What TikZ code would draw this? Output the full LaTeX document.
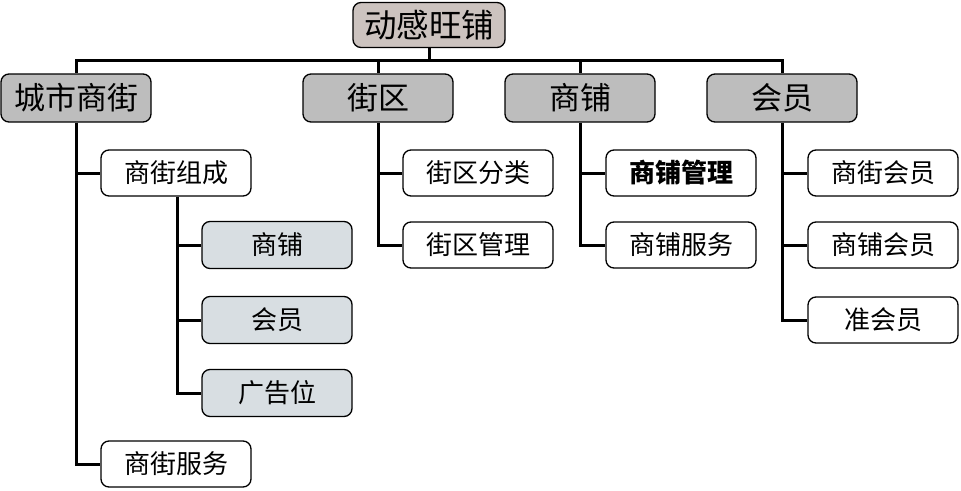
\documentclass[tikz,border=0pt]{standalone}
\usepackage{fontspec}
\setmainfont{Noto Sans CJK SC}
\begin{document}
\begin{tikzpicture}[x=1pt,y=-1pt,
  box/.style={draw=black,line width=1.3pt,rounded corners=8pt,minimum width=150pt,minimum height=46pt,inner sep=0pt},
  topbox/.style={box,fill=topc,minimum width=152pt,minimum height=45pt,font=\fontsize{32.5}{34}\selectfont},
  lone/.style={box,fill=grayc,minimum height=48pt,font=\fontsize{31}{33}\selectfont},
  ltwo/.style={box,fill=white,font=\fontsize{26}{28}\selectfont},
  lthree/.style={box,fill=bluec,minimum height=47pt,font=\fontsize{26}{28}\selectfont},
  link/.style={line width=3pt}]
\definecolor{topc}{HTML}{CCC3BF}
\definecolor{grayc}{HTML}{BDBDBD}
\definecolor{bluec}{HTML}{D8DEE2}
\useasboundingbox (0,0) rectangle (961,490);
\coordinate (bus) at (0,60);
\node[topbox] (root) at (429,25) {动感旺铺};
\node[lone] (c) at (76,98) {城市商街};
\node[lone] (j) at (378,98) {街区};
\node[lone] (s) at (580,98) {商铺};
\node[lone] (h) at (782,98) {会员};
\node[ltwo] (c1) at (176,173) {商街组成};
\node[ltwo] (c2) at (176,464) {商街服务};
\node[lthree] (c11) at (277,245) {商铺};
\node[lthree] (c12) at (277,320) {会员};
\node[lthree] (c13) at (277,393) {广告位};
\node[ltwo] (j1) at (478,173) {街区分类};
\node[ltwo] (j2) at (478,245) {街区管理};
\node[ltwo,font=\fontsize{26}{28}\selectfont\bfseries] (s1) at (681,173) {商铺管理};
\node[ltwo] (s2) at (681,245) {商铺服务};
\node[ltwo] (h1) at (883,173) {商街会员};
\node[ltwo] (h2) at (883,245) {商铺会员};
\node[ltwo] (h3) at (883,320) {准会员};
% connectors
\draw[link] (root.south) -- (root.south |- bus);
\draw[link,line cap=rect] (c.north |- bus) -- (h.north |- bus);
\draw[link] (c.north |- bus) -- (c.north);
\draw[link] (j.north |- bus) -- (j.north);
\draw[link] (s.north |- bus) -- (s.north);
\draw[link] (h.north |- bus) -- (h.north);
\draw[link] (c.south) |- (c2.west);
\draw[link] (c.south |- c1.west) -- (c1.west);
\draw[link] ([xshift=1pt]c1.south) |- (c13.west);
\draw[link] ([xshift=1pt]c1.south |- c11.west) -- (c11.west);
\draw[link] ([xshift=1pt]c1.south |- c12.west) -- (c12.west);
\draw[link] (j.south) |- (j2.west);
\draw[link] (j.south |- j1.west) -- (j1.west);
\draw[link] (s.south) |- (s2.west);
\draw[link] (s.south |- s1.west) -- (s1.west);
\draw[link] (h.south) |- (h3.west);
\draw[link] (h.south |- h1.west) -- (h1.west);
\draw[link] (h.south |- h2.west) -- (h2.west);
\end{tikzpicture}
\end{document}
